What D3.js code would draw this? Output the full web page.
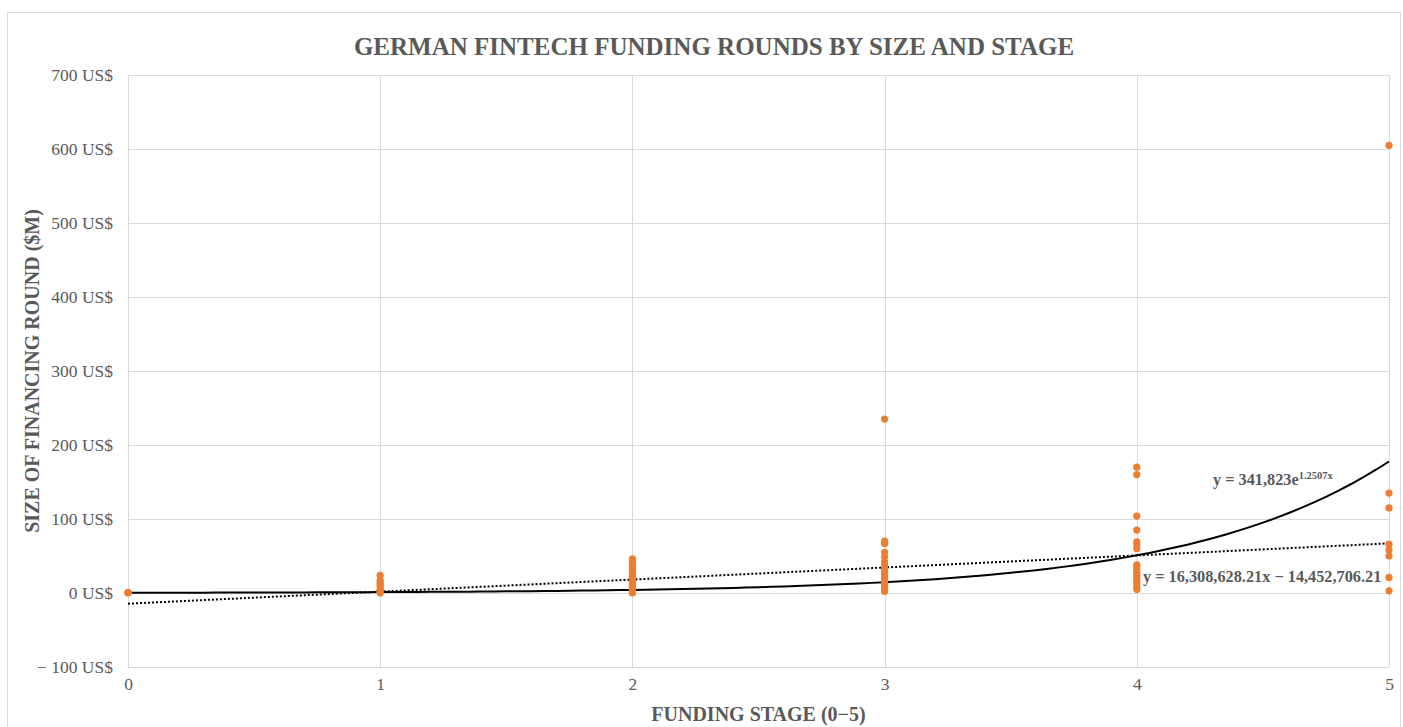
<!DOCTYPE html>
<html>
<head>
<meta charset="utf-8">
<script src="https://cdn.jsdelivr.net/npm/d3@7"></script>
<style>
  body { margin: 0; background: #fff; }
  svg { display: block; }
  svg text { font-family: "Liberation Serif", "Times New Roman", serif; }
</style>
</head>
<body>
<svg width="1403" height="727"></svg>
<script>
// funding rounds in $M, grouped by stage (0-5)
var stage0 = [0, 0.5, 1];
var stage1 = [24, 17, 14, 11, 8, 5, 3, 1, 0];
var stage2 = [46, 42, 38, 35, 31, 28, 25, 22, 19, 16, 13, 10, 7, 5, 3, 1, 0];
var stage3 = [235, 70, 67, 55, 49, 42, 37, 33, 29, 25, 21, 17, 13, 9, 5, 2];
var stage4 = [170, 160, 104, 85, 69, 65, 60, 38, 35, 31, 28, 24, 20, 16, 12, 8, 5];
var stage5 = [605, 135, 115, 66, 58, 50, 21, 3];

var stages = [0, 1, 2, 3, 4, 5];
var yTicks = [-100, 0, 100, 200, 300, 400, 500, 600, 700];

// trendline coefficients as printed on the chart (in $, shown in $M)
var expA = 341823, expB = 1.2507;
var linSlope = 16308628.21, linIntercept = -14452706.21;

var width = 1403, height = 727;
var margin = {top: 75, right: 14, bottom: 60, left: 128};
var svg = d3.select("svg");

var x = d3.scaleLinear().domain([0, 5]).range([margin.left, width - margin.right]);
var y = d3.scaleLinear().domain([-100, 700]).range([height - margin.bottom, margin.top]);

// outer frame
svg.append("rect")
    .attr("x", 7.5).attr("y", 12.5)
    .attr("width", 1393).attr("height", 730)
    .attr("fill", "none").attr("stroke", "#d9d9d9");

// gridlines
svg.append("g").selectAll("line").data(yTicks).enter().append("line")
    .attr("x1", x(0)).attr("x2", x(5))
    .attr("y1", function(d) { return Math.round(y(d)) + 0.5; })
    .attr("y2", function(d) { return Math.round(y(d)) + 0.5; })
    .attr("stroke", "#d9d9d9").attr("stroke-width", 1);

svg.append("g").selectAll("line").data(stages).enter().append("line")
    .attr("y1", y(-100)).attr("y2", y(700))
    .attr("x1", function(d) { return Math.round(x(d)) + 0.5; })
    .attr("x2", function(d) { return Math.round(x(d)) + 0.5; })
    .attr("stroke", "#d9d9d9").attr("stroke-width", 1);

// y axis labels
var fmtY = function(d) { return (d < 0 ? "\u2212 " + Math.abs(d) : d) + " US$"; };
var yAxis = d3.axisLeft(y).tickValues(yTicks).tickSize(0).tickPadding(15).tickFormat(fmtY);
var gy = svg.append("g").attr("transform", "translate(" + x(0) + ",0)").call(yAxis);
gy.attr("font-family", null).attr("font-size", null);
gy.select(".domain").remove();
gy.selectAll("text").attr("fill", "#595959").style("font-size", "17.5px");

// x axis labels
var xAxis = d3.axisBottom(x).tickValues(stages).tickSize(0).tickPadding(11).tickFormat(d3.format("d"));
var gx = svg.append("g").attr("transform", "translate(0," + y(-100) + ")").call(xAxis);
gx.attr("font-family", null).attr("font-size", null);
gx.select(".domain").remove();
gx.selectAll("text").attr("fill", "#595959").style("font-size", "17.5px");

// trendlines
var xs = d3.range(0, 5.0001, 0.05);
var line = d3.line()
    .x(function(d) { return x(d[0]); })
    .y(function(d) { return y(d[1]); });

svg.append("path")
    .datum(xs.map(function(v) { return [v, (linSlope * v + linIntercept) / 1e6]; }))
    .attr("d", line)
    .attr("fill", "none").attr("stroke", "#000").attr("stroke-width", 2)
    .attr("stroke-dasharray", "2,2");

svg.append("path")
    .datum(xs.map(function(v) { return [v, expA * Math.exp(expB * v) / 1e6]; }))
    .attr("d", line)
    .attr("fill", "none").attr("stroke", "#000").attr("stroke-width", 2);

// points
var groups = [stage0, stage1, stage2, stage3, stage4, stage5];
var points = [];
groups.forEach(function(vals, i) {
    vals.forEach(function(v) { points.push({stage: stages[i], value: v}); });
});

svg.append("g").selectAll("circle").data(points).enter().append("circle")
    .attr("cx", function(d) { return x(d.stage); })
    .attr("cy", function(d) { return y(d.value); })
    .attr("r", 3.6)
    .attr("fill", "#ED7D31");

// equation labels
var eq1 = svg.append("text")
    .attr("x", 1213).attr("y", 485)
    .attr("fill", "#595959").style("font-size", "16.3px").style("font-weight", "bold");
eq1.append("tspan").text("y = 341,823e");
eq1.append("tspan").attr("dy", -6).style("font-size", "10.5px").text("1.2507x");

svg.append("text")
    .attr("x", 1143).attr("y", 582)
    .attr("fill", "#595959").style("font-size", "16.3px").style("font-weight", "bold")
    .text("y = 16,308,628.21x \u2212 14,452,706.21");

// title
svg.append("text")
    .attr("x", 714).attr("y", 55)
    .attr("text-anchor", "middle")
    .attr("fill", "#595959").style("font-size", "25px").style("font-weight", "bold")
    .text("GERMAN FINTECH FUNDING ROUNDS BY SIZE AND STAGE");

// axis titles
svg.append("text")
    .attr("x", (x(0) + x(5)) / 2).attr("y", 721)
    .attr("text-anchor", "middle")
    .attr("fill", "#595959").style("font-size", "20px").style("font-weight", "bold")
    .text("FUNDING STAGE (0\u22125)");

svg.append("text")
    .attr("transform", "translate(39," + ((y(-100) + y(700)) / 2) + ") rotate(-90)")
    .attr("text-anchor", "middle")
    .attr("fill", "#595959").style("font-size", "20px").style("font-weight", "bold")
    .text("SIZE OF FINANCING ROUND ($M)");
</script>
</body>
</html>
